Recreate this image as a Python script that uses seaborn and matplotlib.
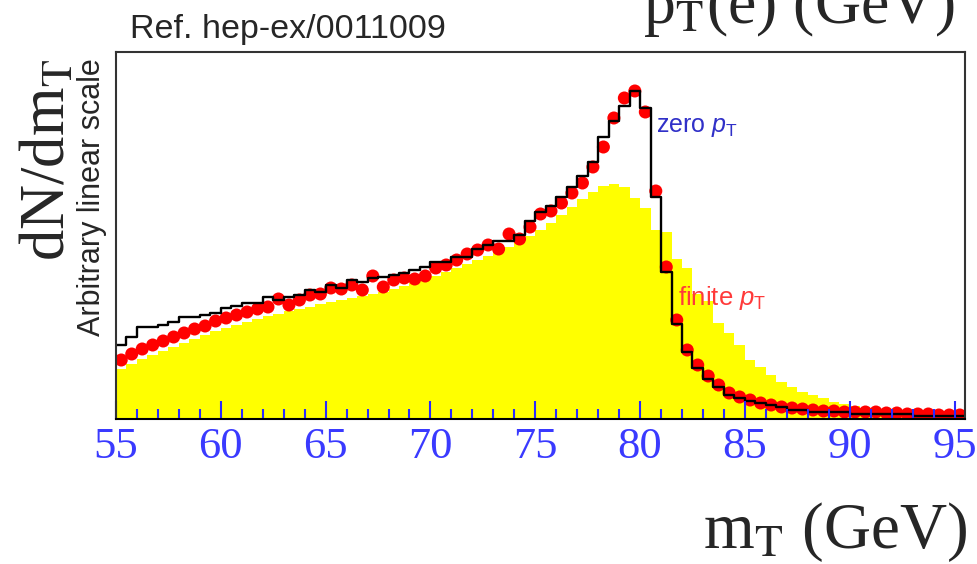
import numpy as np
import pandas as pd
import matplotlib
matplotlib.use("Agg")
import matplotlib.pyplot as plt
from matplotlib.ticker import MultipleLocator
import seaborn as sns

# ---------------- data (arbitrary linear units) ----------------
mt_low, mt_high, bin_width = 55.0, 95.5, 0.5
mt_centers = np.arange(mt_low + bin_width / 2, mt_high, bin_width)

# zero pT (black step histogram)
zero_pt = [74, 82, 92, 92, 94, 97, 102, 102, 104, 106, 111, 113, 116, 116, 122, 119,
           122, 124, 129, 127, 134, 131, 139, 137, 141, 142, 144,
           146, 149, 152, 157, 157, 162, 162, 170, 174, 178, 178, 184, 198, 207,
           213, 222, 232, 243, 257, 282, 298, 313, 328, 311, 222, 147, 95, 67, 51, 40,
           32, 24, 21, 18, 16, 14, 12, 9, 9, 7, 7, 7, 7, 5, 5, 5, 5, 5, 5, 3, 3, 3, 3, 3]

# finite pT (red points)
finite_pt = [59, 65, 70, 74, 78, 82, 86, 90, 93, 98, 101, 104, 107, 110,
             112, 120, 114, 119, 124, 125, 131, 130, 134, 129, 143, 132, 139,
             141, 140, 143, 151, 154, 159, 165, 169, 174, 170, 185, 180, 192, 205,
             208, 216, 226, 236, 252, 272, 301, 321, 328, 307, 228, 152, 99, 69,
             54, 43, 34, 26, 22, 19, 16, 14, 12, 11, 10, 9, 8, 8, 7, 7, 7, 7, 6, 6,
             5, 5, 5, 4, 4, 4]

# yellow filled histogram
yellow_hist = [50, 55, 60, 64, 68, 72, 76, 80, 84, 88, 91, 94, 97, 100, 103, 105,
               108, 110, 112, 115, 117, 119, 121, 123, 125, 127, 130,
               133, 136, 139, 143, 147, 151, 155, 159, 163, 167, 172, 177, 183, 189,
               196, 204, 212, 220, 227, 233, 235, 232, 221, 211, 189, 187, 160, 151, 125, 118,
               96, 86, 74, 59, 52, 44, 37, 32, 27, 24, 21, 17, 15, 13, 11, 9, 8, 7, 6, 5,
               5, 4, 4, 3]

x_ticks = [55, 60, 65, 70, 75, 80, 85, 90, 95]

df = pd.DataFrame({"mt": mt_centers, "zero": zero_pt, "finite": finite_pt,
                   "yellow": yellow_hist})

# ---------------- style ----------------
sns.set_style("white")
plt.rcParams["font.family"] = ["Liberation Sans", "DejaVu Sans"]
plt.rcParams["mathtext.fontset"] = "custom"
plt.rcParams["mathtext.rm"] = "Liberation Sans"
plt.rcParams["mathtext.it"] = "Liberation Sans:italic"

fig = plt.figure(figsize=(9.78, 5.64), dpi=100)
ax = fig.add_axes([116 / 978, 145 / 564, 849 / 978, 367 / 564])

hist_kws = dict(binwidth=bin_width, binrange=(mt_low, mt_high), element="step")
sns.histplot(data=df, x="mt", weights="yellow", fill=True, color="#ffff00",
             alpha=1, linewidth=0, ax=ax, zorder=1, **hist_kws)
sns.scatterplot(data=df, x="mt", y="finite", color="#ff0000", s=88,
                edgecolor="none", linewidth=0, ax=ax, zorder=2)
sns.histplot(data=df, x="mt", weights="zero", fill=False, color="black",
             linewidth=1.7, ax=ax, zorder=3, **hist_kws)

ax.set_xlim(mt_low, mt_high)
ax.set_ylim(0, 367)
ax.set_xlabel("")
ax.set_ylabel("")
ax.set_yticks([])
ax.set_xticks(x_ticks)
ax.set_xticklabels([str(t) for t in x_ticks], family="Liberation Serif",
                   fontsize=32, color="#3a3aff")
ax.xaxis.set_minor_locator(MultipleLocator(1))
ax.tick_params(axis="x", which="major", direction="in", length=13, width=1.5,
               color="#2a2aff", pad=6, bottom=True, top=False)
ax.tick_params(axis="x", which="minor", direction="in", length=7, width=1.5,
               color="#2a2aff", bottom=True, top=False)
ax.xaxis.set_zorder(4)
for sp in ax.spines.values():
    sp.set_visible(True)
    sp.set_color("#333333")
    sp.set_linewidth(1.5)
    sp.set_zorder(5)
ax.spines["bottom"].set_color("black")

# annotations inside the plot
ax.text(80.74, 287, r"zero $p_{\mathrm{T}}$", color="#3030c8", fontsize=18,
        ha="left", va="baseline")
ax.text(81.79, 114, r"finite $p_{\mathrm{T}}$", color="#ff3a3a", fontsize=18.5,
        ha="left", va="baseline")

# figure texts
fig.text(130 / 978, 1 - 38 / 564, "Ref. hep-ex/0011009", fontsize=24.5,
         ha="left", va="baseline")
fig.text(955 / 978, 1 - 23 / 564, r"p$_{\rm T}$(e) (GeV)", fontsize=46,
         family="Liberation Serif", math_fontfamily="stix", ha="right", va="baseline")
fig.text(968 / 978, 1 - 548 / 564, r"m$_{\rm T}$ (GeV)", fontsize=47,
         family="Liberation Serif", math_fontfamily="stix", ha="right", va="baseline")
fig.text(50 / 978, 1 - 160 / 564, r"dN/dm$_{\rm T}$", fontsize=45,
         family="Liberation Serif", math_fontfamily="stix", rotation=90,
         ha="center", va="center")
fig.text(92 / 978, 1 - 197 / 564, "Arbitrary linear scale", fontsize=22,
         rotation=90, ha="center", va="center")

fig.savefig("out.png", dpi=100)
